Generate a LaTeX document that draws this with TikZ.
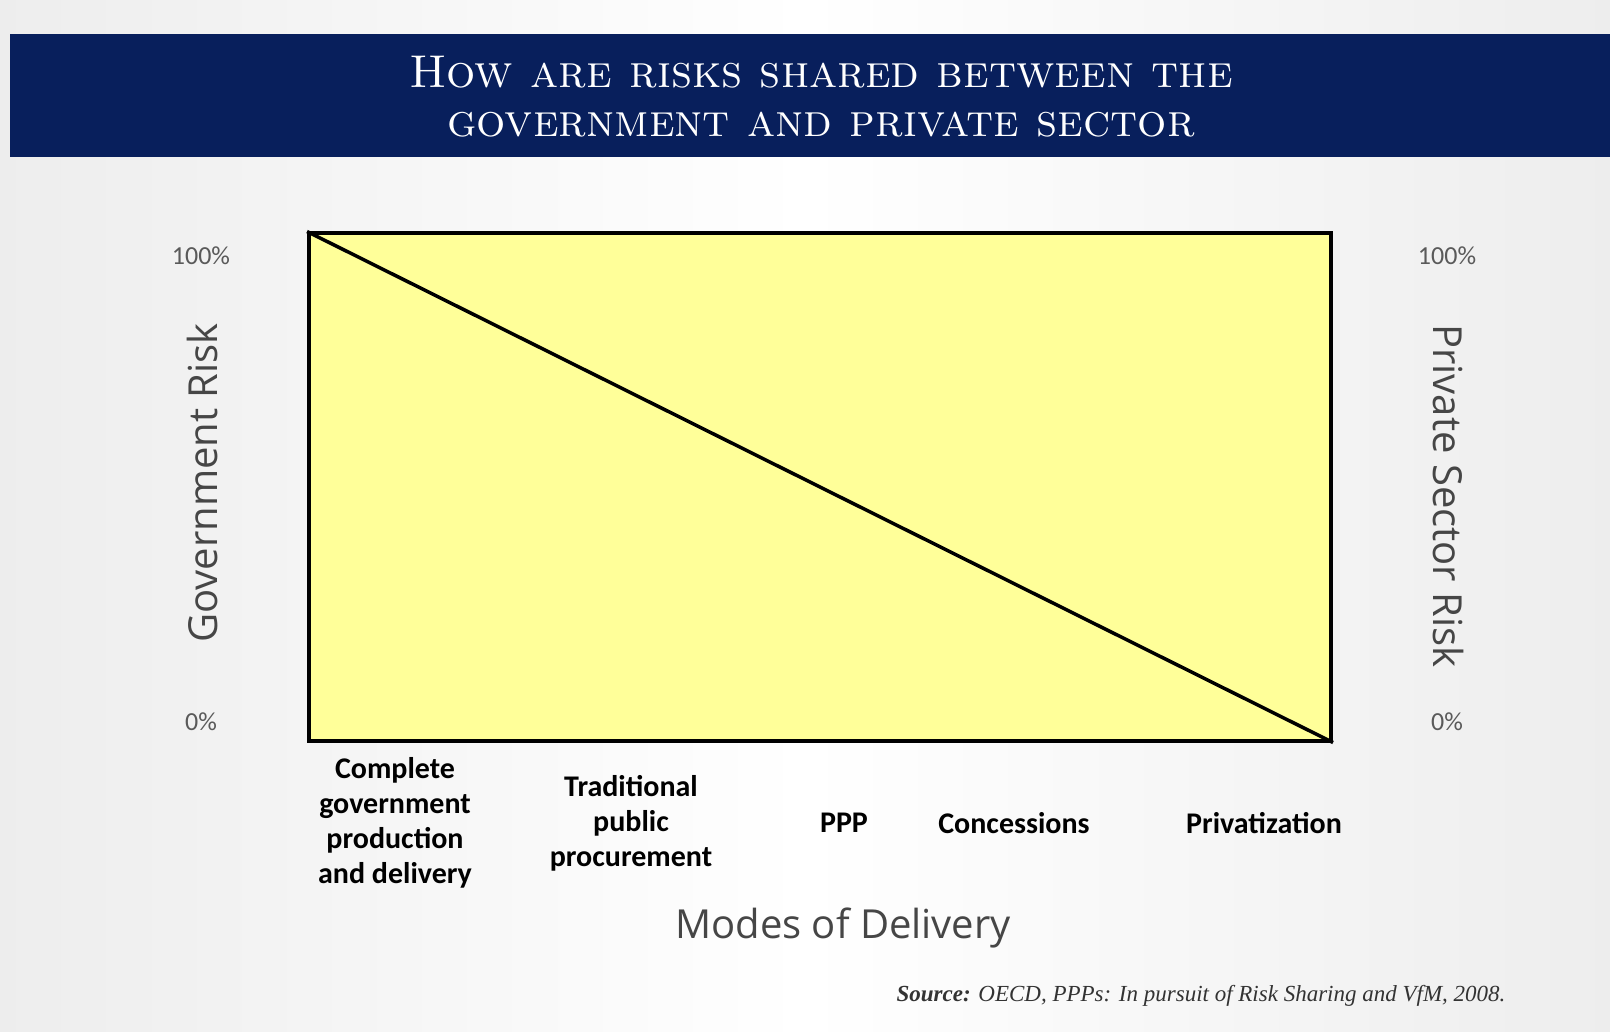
\documentclass[tikz,border=0pt]{standalone}
\usepackage{fontspec}
\usepackage{xcolor}
\usetikzlibrary{positioning, calc}

\newfontfamily\labelfont{Carlito}
\newfontfamily\axisfont{Open Sans}
\newfontfamily\srcfont{Liberation Serif}

\definecolor{bannerblue}{RGB}{8,31,92}
\definecolor{chartyellow}{RGB}{255,255,153}
\definecolor{pctgray}{RGB}{90,90,90}
\definecolor{axisgray}{RGB}{70,70,70}

\begin{document}
\begin{tikzpicture}[
  x=1pt, y=-1pt,
  pct/.style={font=\labelfont\fontsize{26}{30}\selectfont, text=pctgray},
  mode/.style={font=\labelfont\bfseries\fontsize{30}{35}\selectfont, align=center},
  axislabel/.style={font=\axisfont\fontsize{40}{46}\selectfont, text=axisgray},
  chartbox/.style={draw, line width=4pt, fill=chartyellow, minimum width=1022pt, minimum height=507pt, inner sep=0pt}
]

% ===== Background =====
\useasboundingbox (0,0) rectangle (1610,1032);
\shade[left color=gray!14, right color=gray!14, middle color=white] (0,0) rectangle (1610,1032);

% ===== Title banner =====
\node[fill=bannerblue, minimum width=1600pt, minimum height=123pt, inner sep=0pt] (banner) at (810,95.5) {};
\node[text=white, align=center, font=\fontsize{46}{49}\selectfont\scshape] (title) at (821,97)
{How are risks shared between the\\government and private sector};

% ===== Chart =====
\node[chartbox] (chart) at (820,487) {};
\draw[line width=3.5pt] (chart.north west) -- (chart.south east);

% ===== Axis ticks =====
\node[pct] (govtop) at (201,256) {100\%};
\node[pct] (govbot) at (201,722) {0\%};
\node[pct] (privtop) at (1447,256) {100\%};
\node[pct] (privbot) at (1447,722) {0\%};

\node[axislabel, rotate=90] (govrisk) at (202,483) {Government Risk};
\node[axislabel, rotate=-90] (privrisk) at (1448,496) {Private Sector Risk};

% ===== Modes of delivery =====
\node[mode] (complete) at (395,823) {Complete\\government\\production\\and delivery};
\node[mode] (traditional) at (631,823) {Traditional\\public\\procurement};
\node[mode] (ppp) at (844,823) {PPP};
\node[mode] (concessions) at (1014,823) {Concessions};
\node[mode] (privatization) at (1264,823) {Privatization};

\node[axislabel] (modes) at (843,928) {Modes of Delivery};

% ===== Source =====
\node[anchor=east, font=\srcfont\itshape\fontsize{23}{27}\selectfont, text=black!80] (source) at (1509,996)
{\textbf{Source:} OECD, PPPs: In pursuit of Risk Sharing and VfM, 2008.};

\end{tikzpicture}
\end{document}
